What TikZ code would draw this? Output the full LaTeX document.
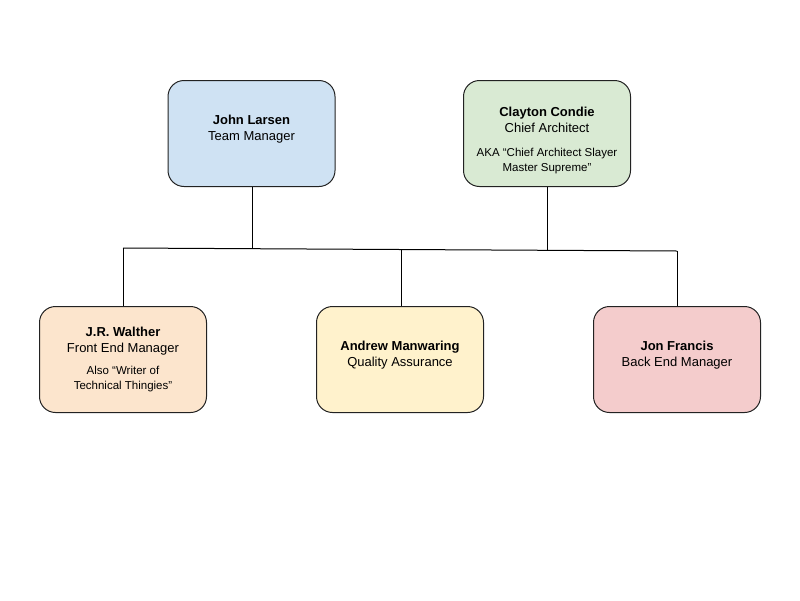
\documentclass[tikz,border=0pt]{standalone}
\usepackage{fontspec}
\setmainfont{Liberation Sans}
\definecolor{cblue}{HTML}{CFE2F3}
\definecolor{cgreen}{HTML}{D9EAD3}
\definecolor{corange}{HTML}{FCE5CD}
\definecolor{cyellow}{HTML}{FFF2CC}
\definecolor{cred}{HTML}{F4CCCC}
\definecolor{cborder}{HTML}{222222}
\tikzset{
  card/.style={draw=cborder, line width=1pt, rounded corners=16pt, minimum width=167pt, minimum height=106pt, inner sep=0pt},
  nm/.style={font=\fontsize{13}{15}\selectfont\bfseries, inner sep=0pt, anchor=base},
  rl/.style={font=\fontsize{13}{15}\selectfont, inner sep=0pt, anchor=base},
  sm/.style={font=\fontsize{11.5}{13}\selectfont, inner sep=0pt, anchor=base},
  wire/.style={draw=black, line width=1pt},
}
\begin{document}
\begin{tikzpicture}[x=1pt,y=-1pt]
\useasboundingbox (0,0) rectangle (800,600);
\node[card, fill=cblue] (jl) at (251.5,133.5) {};
\node[card, fill=cgreen] (cc) at (547,133.5) {};
\node[card, fill=corange] (jr) at (123,359.5) {};
\node[card, fill=cyellow] (am) at (400,359.5) {};
\node[card, fill=cred] (jf) at (677,359.5) {};
% texts
\node[nm] (jl1) at (251.5,124) {John Larsen};
\node[rl] (jl2) at (251.5,140) {Team Manager};
\node[nm] (cc1) at (547,116) {Clayton Condie};
\node[rl] (cc2) at (547,132) {Chief Architect};
\node[sm] (cc3) at (547,156) {AKA “Chief Architect Slayer};
\node[sm] (cc4) at (547,171.5) {Master Supreme”};
\node[nm] (jr1) at (123,336) {J.R. Walther};
\node[rl] (jr2) at (123,352.5) {Front End Manager};
\node[sm] (jr3) at (123,374) {Also “Writer of};
\node[sm] (jr4) at (123,389.5) {Technical Thingies”};
\node[nm] (am1) at (400,350) {Andrew Manwaring};
\node[rl] (am2) at (400,366) {Quality Assurance};
\node[nm] (jf1) at (677,350) {Jon Francis};
\node[rl] (jf2) at (677,366) {Back End Manager};
% connectors
\coordinate (hl) at (123,248);
\coordinate (hr) at (677,251);
\coordinate (j1) at (252,248.7);
\coordinate (j2) at (401,249.5);
\coordinate (j3) at (547,250.3);
\draw[wire] (hl) -- (hr);
\draw[wire] (jl.south -| j1) -- (j1);
\draw[wire] (cc.south -| j3) -- (j3);
\draw[wire] (hl) -- (jr.north -| hl);
\draw[wire] (j2) -- (am.north -| j2);
\draw[wire] (hr) -- (jf.north -| hr);
\end{tikzpicture}
\end{document}
